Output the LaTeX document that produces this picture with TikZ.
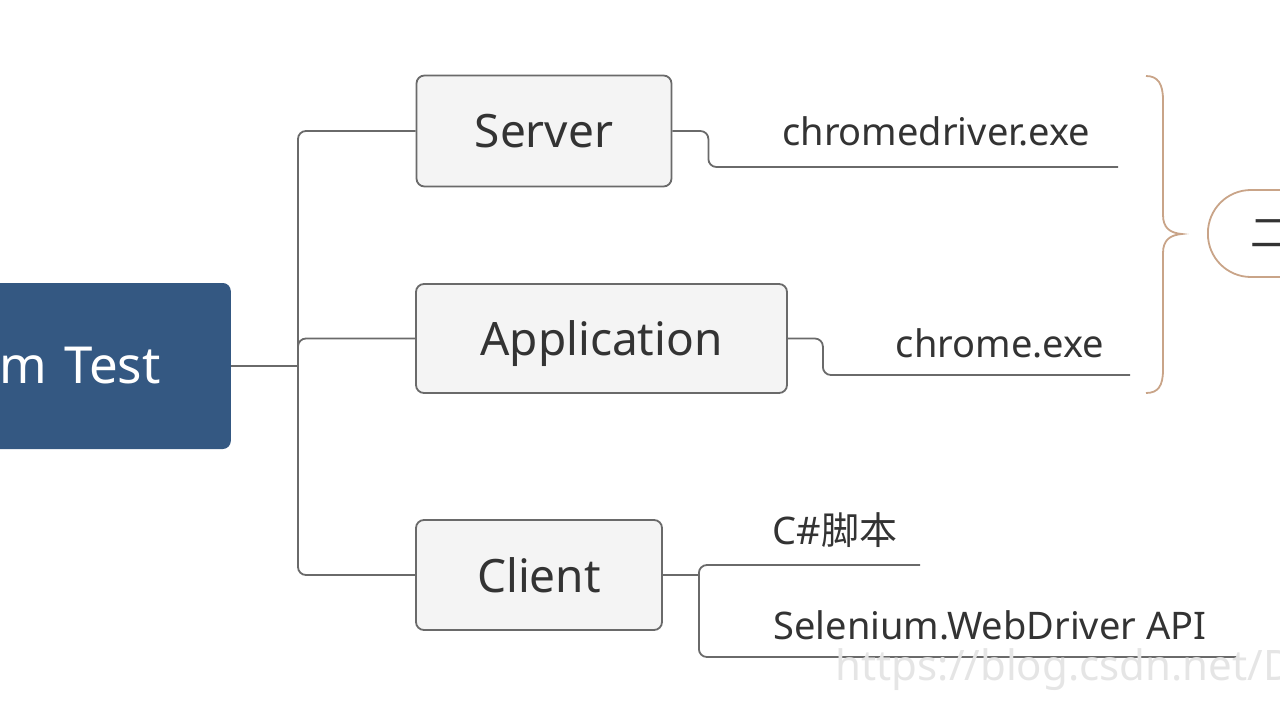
\documentclass[tikz,border=0pt]{standalone}
\usepackage{fontspec}
\setmainfont{Noto Sans}
\newfontfamily\cjk{Noto Sans CJK SC}
\usepackage{xcolor}
\definecolor{rootblue}{HTML}{345882}
\definecolor{boxgray}{HTML}{F4F4F4}
\definecolor{linegray}{HTML}{6A6A6A}
\definecolor{bracetan}{HTML}{C9A488}
\definecolor{inkgray}{HTML}{333333}

\begin{document}
\begin{tikzpicture}[x=1pt,y=-1pt,
  topic/.style={draw=linegray,line width=1.8pt,fill=boxgray,rounded corners=8pt,text=inkgray,
    text depth=0pt,font=\fontsize{46}{50}\selectfont},
  leaf/.style={text=inkgray,font=\fontsize{38}{42}\selectfont},
  link/.style={draw=linegray,line width=1.8pt,rounded corners=8pt}]
\useasboundingbox (0,0) rectangle (1280,720);

% central topic, cut by the left edge
\node[fill=rootblue,rounded corners=8pt,text=white,font=\fontsize{51}{55}\selectfont,
  text width=200pt,align=right,inner xsep=70pt,minimum height=166pt,anchor=east] (root) at (231,366) {m Test};

% first level
\node[topic,minimum width=255pt,minimum height=111pt] (server) at (544,131) {Server};
\node[topic,minimum width=371pt,minimum height=109pt] (app) at (601.5,338.5) {Application};
\node[topic,minimum width=246pt,minimum height=110pt] (client) at (539,575) {Client};

\draw[link] (root.east) -- ++(67,0) coordinate (hub);
\draw[link] (hub) |- (server.west);
\draw[link] (hub) |- (app.west);
\draw[link] (hub) |- (client.west);

% second level
\node[leaf] (driver) at (936,131) {chromedriver.exe};
\node[leaf] (browser) at (1000,343) {chrome.exe};
\node[leaf] (script) at (835,530) {C\#{\cjk 脚本}};
\node[leaf] (api) at (990,625) {Selenium.WebDriver API};
\coordinate (driverend) at (1118,167);
\coordinate (browserend) at (1130,375);
\coordinate (scriptend) at (920,565);
\coordinate (apiend) at (1237,657);

\draw[link] (server.east) -- ++(36,0) |- (driverend);
\draw[link] (app.east) -- ++(35,0) |- (browserend);
\draw[link] (client.east) -- ++(36,0) coordinate (cjoint);
\draw[link] (cjoint) |- (scriptend);
\draw[link] (cjoint) |- (apiend);

% summary brace and its topic
\draw[bracetan,line width=1.8pt] (1146,76) .. controls (1158,76) and (1163,84) .. (1163,100)
  -- (1163,215) .. controls (1163,228) and (1170,233) .. (1182,234)
  .. controls (1170,235) and (1163,240) .. (1163,253)
  -- (1163,370) .. controls (1163,386) and (1158,393) .. (1146,393);
\node[draw=bracetan,line width=1.8pt,rounded corners=43pt,minimum height=87pt,text width=200pt,
  align=left,inner xsep=43pt,anchor=west,text=inkgray,font=\cjk\fontsize{40}{44}\selectfont] (group) at (1207,233.5) {二};

% watermark
\node[anchor=base west,text=black!10,font=\fontsize{42}{46}\selectfont] (mark) at (832,680) {https://blog.csdn.net/D};
\end{tikzpicture}
\end{document}
